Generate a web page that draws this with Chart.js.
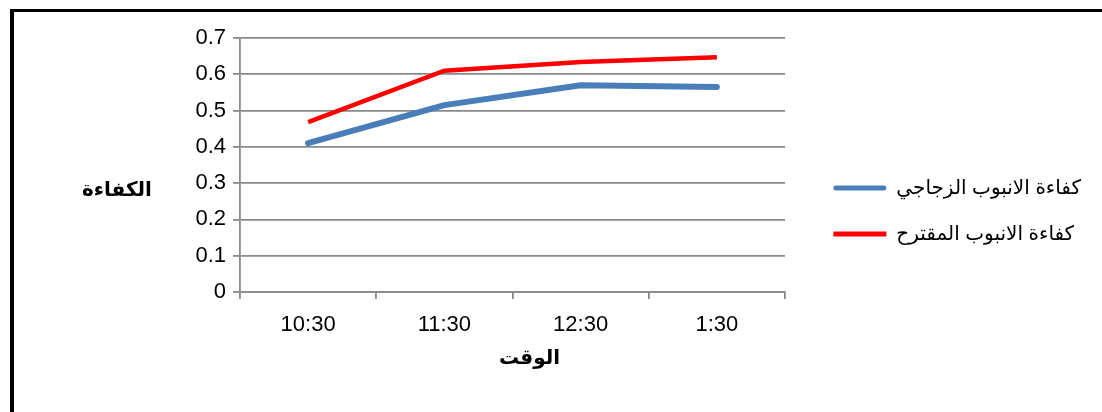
<!DOCTYPE html>
<html lang="ar">
<head>
<meta charset="utf-8">
<script src="https://cdn.jsdelivr.net/npm/chart.js@4.4.1/dist/chart.umd.min.js"></script>
<style>
  html, body { margin: 0; padding: 0; background: #fff; }
  #wrap { position: relative; width: 1102px; height: 412px; overflow: hidden; }
  #effChart { position: absolute; left: 0; top: 0; }
  #frame { position: absolute; left: 10px; top: 9px; right: -10px; bottom: -10px;
           border-left: 4px solid #000; border-top: 3px solid #000; pointer-events: none; }
</style>
</head>
<body>
<div id="wrap">
  <canvas id="effChart" width="1102" height="412"></canvas>
  <div id="frame"></div>
</div>
<script>
// time of reading
const times = ['10:30', '11:30', '12:30', '1:30'];
// efficiency of the glass tube and of the proposed tube
const glassTube = [0.41, 0.515, 0.57, 0.565];
const proposedTube = [0.468, 0.61, 0.634, 0.647];
const seriesNames = ['كفاءة الانبوب الزجاجي', 'كفاءة الانبوب المقترح'];
const xTitle = 'الوقت';
const yTitle = 'الكفاءة';
const yMin = 0, yMax = 0.7, yStep = 0.1;

const FONT = "'Liberation Sans', 'DejaVu Sans', Arial, sans-serif";
const GRID = '#8a8a8a';
const PLOT_RIGHT = 785;
const PAD_RIGHT = 11;

// axis titles are drawn flat, placed beside the plot rather than centred on it
const axisTitles = {
  id: 'axisTitles',
  afterDraw(chart, args, opts) {
    const { ctx, chartArea } = chart;
    const h = chartArea.bottom - chartArea.top;
    ctx.save();
    ctx.font = 'bold 20px ' + FONT;
    ctx.fillStyle = '#000';
    ctx.textAlign = 'center';
    ctx.textBaseline = 'middle';
    ctx.fillText(opts.y, chartArea.left - 123, chartArea.top + h * 0.6);
    ctx.fillText(opts.x, (chartArea.left + chartArea.right) / 2 + 17, chartArea.bottom + 66);
    ctx.restore();
  }
};

const ctx = document.getElementById('effChart').getContext('2d');

const effChart = new Chart(ctx, {
  type: 'line',
  data: {
    labels: times,
    datasets: [{
      label: seriesNames[0],
      data: glassTube,
      borderColor: '#4a7ebb',
      backgroundColor: '#4a7ebb',
      borderWidth: 6,
      borderCapStyle: 'round',
      borderJoinStyle: 'round',
      pointRadius: 0,
      tension: 0,
      fill: false
    }, {
      label: seriesNames[1],
      data: proposedTube,
      borderColor: '#ff0000',
      backgroundColor: '#ff0000',
      borderWidth: 4.5,
      borderCapStyle: 'butt',
      pointRadius: 0,
      tension: 0,
      fill: false
    }]
  },
  plugins: [axisTitles],
  options: {
    responsive: false,
    animation: false,
    layout: { padding: { top: 38, bottom: 28, left: 0, right: PAD_RIGHT } },
    scales: {
      x: {
        offset: true,
        grid: { display: true, drawOnChartArea: false, drawTicks: true, tickLength: 7,
                color: GRID, lineWidth: 1.8, offset: true },
        border: { color: GRID, width: 1.8 },
        ticks: { color: '#000', padding: 13, font: { size: 22, family: FONT } },
        // leave room underneath for the axis title
        afterFit(s) { s.height = 92; }
      },
      y: {
        min: yMin,
        max: yMax,
        grid: { color: GRID, lineWidth: 1.8, tickLength: 7 },
        border: { color: GRID, width: 1.8 },
        ticks: { stepSize: yStep, color: '#000', padding: 7, font: { size: 22, family: FONT } },
        afterFit(s) { s.width = 240; }
      },
      // empty spacer between plot and legend
      gap: {
        position: 'right',
        display: true,
        grid: { display: false },
        border: { display: false },
        ticks: { display: false },
        afterFit(s) {
          const lg = s.chart.legend;
          s.width = Math.max(0, s.chart.width - PAD_RIGHT - (lg ? lg.width : 0) - PLOT_RIGHT);
        }
      }
    },
    plugins: {
      legend: {
        position: 'right',
        align: 'center',
        maxWidth: 420,
        labels: {
          boxWidth: 53,
          boxHeight: 5,
          padding: 26,
          color: '#000',
          font: { size: 20, family: FONT },
          generateLabels(chart) {
            const items = Chart.defaults.plugins.legend.labels.generateLabels(chart);
            items.forEach((it, i) => {
              it.lineWidth = 0;
              it.fillStyle = chart.data.datasets[i].borderColor;
              it.borderRadius = i === 0 ? 2.5 : 0;
            });
            return items;
          }
        }
      },
      tooltip: { enabled: false },
      axisTitles: { x: xTitle, y: yTitle }
    }
  }
});
</script>
</body>
</html>
